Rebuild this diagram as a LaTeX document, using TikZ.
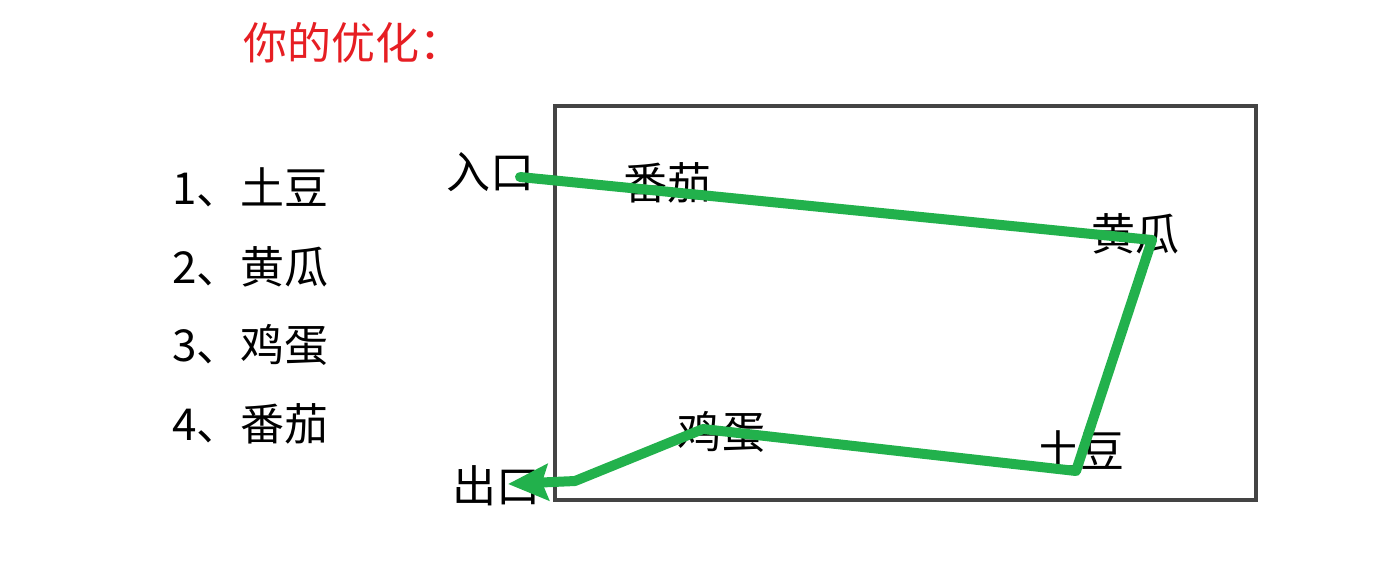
\documentclass[tikz,border=0pt]{standalone}
\usepackage{fontspec}
\setmainfont{Noto Sans CJK SC}
\usepackage{tikz}
\usetikzlibrary{arrows.meta}
\usepackage{xcolor}
\definecolor{routegreen}{RGB}{34,177,76}
\definecolor{boxgray}{RGB}{68,68,68}
\definecolor{titlered}{RGB}{230,30,35}

\begin{document}
\begin{tikzpicture}[x=1pt, y=-1pt,
    lbl/.style={inner sep=0pt, font=\fontsize{44}{50}\selectfont},
    route/.style={routegreen, line width=10pt, line join=round, line cap=round}]
        \useasboundingbox (0, 0) rectangle (1373, 566);

        \node[lbl, anchor=west, text=titlered] (title) at (243, 43) {你的优化：};

        % shopping list
        \node[lbl, anchor=west] (l1) at (172, 187) {1、土豆};
        \node[lbl, anchor=west] (l2) at (172, 267) {2、黄瓜};
        \node[lbl, anchor=west] (l3) at (172, 345) {3、鸡蛋};
        \node[lbl, anchor=west] (l4) at (172, 424) {4、番茄};

        % store
        \draw[boxgray, line width=4pt] (555, 106) rectangle (1256, 500);

        \node[lbl] (entry) at (490, 172) {入口};
        \node[lbl] (exit) at (496, 486) {出口};
        \node[lbl] (tomato) at (667, 183) {番茄};
        \node[lbl] (cucumber) at (1135, 234) {黄瓜};
        \node[lbl] (egg) at (721, 432) {鸡蛋};
        \node[lbl] (potato) at (1080, 450) {土豆};

        \coordinate (start) at (520, 177);
        \coordinate (pc) at (1152, 240);
        \coordinate (pp) at (1076, 471);
        \coordinate (pe) at (703, 429);
        \coordinate (pb) at (575, 481);
        \coordinate (stop) at (508, 484);

        \draw[route, -{Stealth[length=40pt, width=36pt, inset=6pt]}] (start) -- (pc) -- (pp) -- (pe) -- (pb) -- (stop);

      \end{tikzpicture}
\end{document}
